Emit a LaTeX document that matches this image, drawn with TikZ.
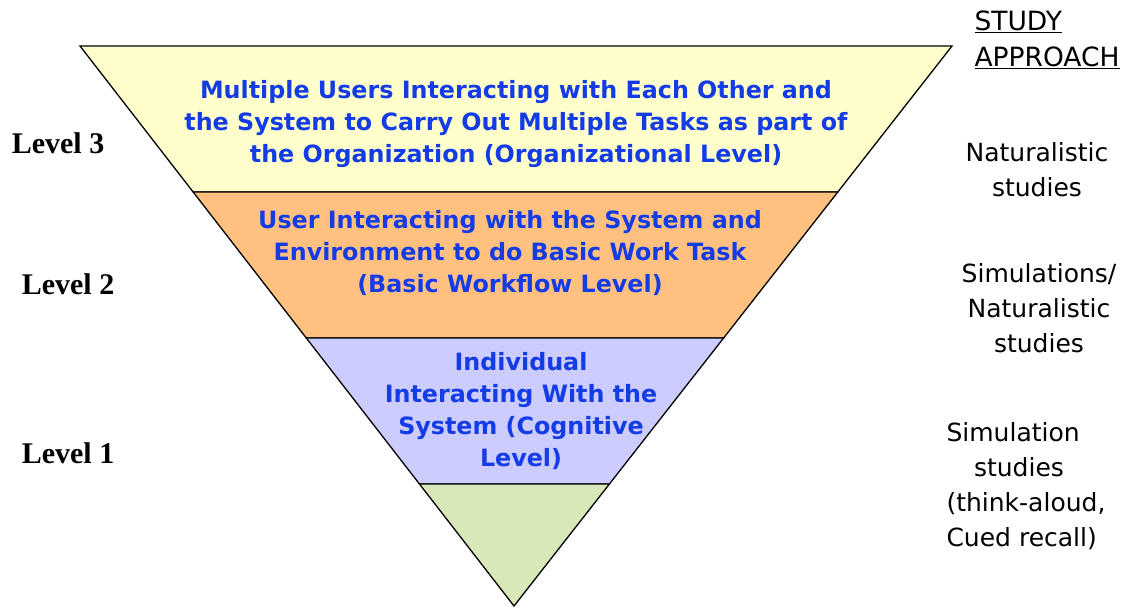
\documentclass[tikz,border=0pt]{standalone}
\usepackage{fontspec}
\setmainfont{DejaVu Sans}
\newfontfamily\levelfont{Liberation Serif}
\usetikzlibrary{calc,positioning}
\definecolor{tierthree}{HTML}{FFFFCC}
\definecolor{tiertwo}{HTML}{FFC080}
\definecolor{tierone}{HTML}{CCCCFF}
\definecolor{tierbase}{HTML}{D8E8B8}
\definecolor{tierblue}{RGB}{20,60,230}
\tikzset{
        tier/.style = {draw, line width=1.3pt, line join=miter},
        tiertext/.style = {text=tierblue, align=center,
            font=\fontsize{23.8}{31.8}\selectfont\bfseries},
        levellabel/.style = {font=\levelfont\fontsize{30}{30}\selectfont\bfseries},
        approach/.style = {align=center, font=\fontsize{25}{35}\selectfont},
    }

\begin{document}
\begin{tikzpicture}[x=1pt,y=-1pt]
    \useasboundingbox (0,0) rectangle (1127,608);

    \coordinate (tl) at (80,46);
    \coordinate (tr) at (952,46);
    \coordinate (apex) at (514,606);
    \coordinate (l2) at ($ (tl)!0.2607!(apex) $);
    \coordinate (r2) at ($ (tr)!0.2607!(apex) $);
    \coordinate (l1) at ($ (tl)!0.5214!(apex) $);
    \coordinate (r1) at ($ (tr)!0.5214!(apex) $);
    \coordinate (l0) at ($ (tl)!0.7821!(apex) $);
    \coordinate (r0) at ($ (tr)!0.7821!(apex) $);

    % tiers of the pyramid
    \filldraw [tier, fill=tierthree] (tl) -- (tr) -- (r2) -- (l2) -- cycle;
    \filldraw [tier, fill=tiertwo] (l2) -- (r2) -- (r1) -- (l1) -- cycle;
    \filldraw [tier, fill=tierone] (l1) -- (r1) -- (r0) -- (l0) -- cycle;
    \filldraw [tier, fill=tierbase] (l0) -- (r0) -- (apex) -- cycle;

    \node [tiertext] (t3) at (516,124) {Multiple Users Interacting with Each Other and\\the System to Carry Out Multiple Tasks as part of\\the Organization (Organizational Level)};
    \node [tiertext] (t2) at (510,253) {User Interacting with the System and\\Environment to do Basic Work Task\\(Basic Workflow Level)};
    \node [tiertext] (t1) at (521,411) {Individual\\Interacting With the\\System (Cognitive\\Level)};

    % levels on the left
    \node [levellabel] (lv3) at (58,143) {Level 3};
    \node [levellabel] (lv2) at (68,284) {Level 2};
    \node [levellabel] (lv1) at (68,453) {Level 1};

    % study approach on the right
    \node [approach, align=left, anchor=west, font=\fontsize{26.5}{36}\selectfont] (sa) at (971,40) {\underline{STUDY}\\\underline{APPROACH}};
    \node [approach] (n3) at (1037,170) {Naturalistic\\studies};
    \node [approach] (n2) at (1039,308) {Simulations/\\Naturalistic\\studies};
    \node [approach, align=left, anchor=west] (n1) at (943,486) {Simulation\\\hspace*{1.1em}studies\\(think-aloud,\\Cued recall)};
\end{tikzpicture}
\end{document}
